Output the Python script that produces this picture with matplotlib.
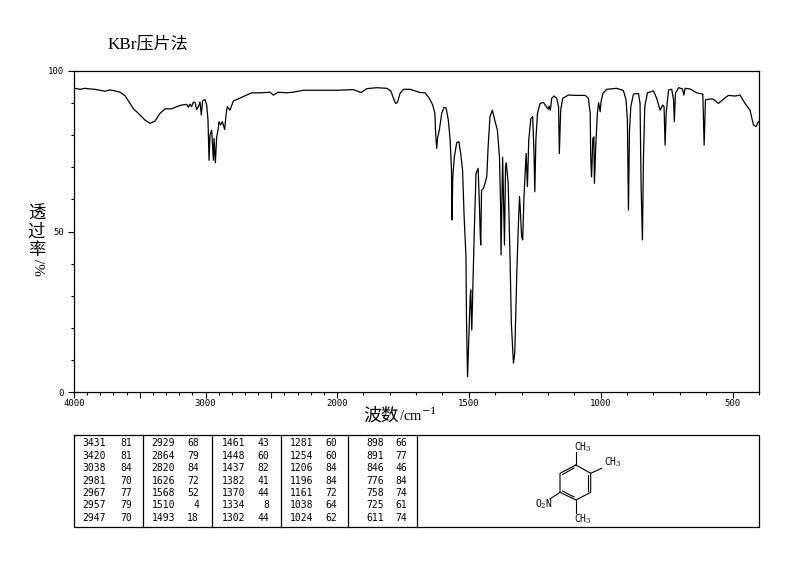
import numpy as np
import matplotlib
matplotlib.use("Agg")
import matplotlib.pyplot as plt

plt.rcParams["font.family"] = ["Noto Sans CJK SC", "DejaVu Sans"]
plt.rcParams["mathtext.fontset"] = "dejavuserif"

# spectrum (wavenumber, % transmittance)
wavenumber = [
    3992, 3954, 3916, 3878, 3840, 3802, 3764, 3726, 3688, 3650, 3612, 3587, 3549, 3498, 3460, 3422,
    3384, 3346, 3308, 3257, 3219, 3181, 3143, 3130, 3118, 3105, 3093, 3080, 3067, 3054, 3042, 3032,
    3022, 3004, 2991, 2981, 2973, 2966, 2953, 2940, 2935, 2925, 2915, 2907, 2897, 2885, 2872, 2854,
    2844, 2834, 2814, 2788, 2763, 2725, 2687, 2649, 2585, 2509, 2484, 2446, 2383, 2332, 2256, 2129,
    2001, 1938, 1909, 1887, 1849, 1811, 1796, 1786, 1778, 1771, 1761, 1748, 1723,
    1685, 1666, 1650, 1637, 1629, 1626, 1622, 1619, 1612, 1603, 1594, 1586, 1578, 1571, 1566, 1564,
    1561, 1555, 1546, 1538, 1531, 1524, 1518, 1511, 1509, 1505, 1500, 1495, 1493, 1489, 1485, 1480,
    1473, 1465, 1461, 1457, 1455, 1452, 1445, 1437, 1432, 1427, 1420, 1411, 1402, 1392, 1384, 1380,
    1378, 1374, 1372, 1368, 1365, 1361, 1358, 1351, 1344, 1339, 1331, 1326, 1318, 1313, 1308, 1305,
    1300, 1296, 1291, 1283, 1278, 1273, 1265, 1258, 1253, 1250, 1246, 1240, 1230, 1217, 1207, 1198,
    1196, 1191, 1186, 1177, 1167, 1160, 1157, 1152, 1144, 1123, 1091, 1059, 1047, 1040, 1038, 1035,
    1033, 1030, 1026, 1024, 1019, 1013, 1008, 1002, 999, 992, 977, 939, 914, 904, 899, 895,
    891, 886, 876, 857, 851, 847, 842, 838, 833, 823, 800, 788, 775, 765, 760, 756,
    752, 743, 731, 724, 721, 717, 705, 690, 685, 680, 661, 636, 613, 608, 603, 585,
    573, 554, 535, 516, 491, 472, 453, 434, 421, 411, 402,
]
transmittance = [
    94.6, 94.3, 94.6, 94.4, 94.3, 94.0, 93.7, 94.1, 93.8, 93.4, 92.3, 90.7, 88.3, 86.3, 84.7, 83.7,
    84.4, 86.8, 88.2, 88.2, 88.9, 89.4, 89.6, 88.7, 89.7, 88.9, 90.3, 90.2, 88.0, 88.9, 90.4, 86.3,
    90.7, 91.1, 89.4, 84.7, 72.2, 80.0, 81.6, 72.2, 79.0, 71.4, 79.5, 81.1, 84.2, 83.2, 84.2, 81.8,
    86.3, 88.9, 87.8, 90.7, 91.1, 91.8, 92.5, 93.2, 93.2, 93.4, 92.5, 93.4, 93.2, 93.4, 94.0, 94.0,
    94.0, 94.2, 93.3, 94.5, 94.8, 94.6, 93.8, 91.5, 89.9, 90.2, 93.0, 94.3, 94.3,
    93.3, 93.2, 91.5, 89.4, 86.8, 80.6, 75.9, 79.0, 81.6, 86.8, 88.7, 88.4, 84.7, 78.5, 69.2, 53.6,
    67.1, 73.3, 77.7, 78.0, 74.3, 69.2, 54.6, 42.2, 22.4, 4.8, 17.3, 29.7, 31.8, 19.3, 32.8, 48.4,
    68.1, 69.7, 60.9, 49.4, 45.8, 62.9, 63.4, 65.5, 67.3, 76.4, 85.8, 87.8, 84.7, 81.6, 73.3, 58.8,
    42.7, 62.9, 73.1, 56.7, 45.8, 70.2, 71.4, 65.0, 42.2, 21.4, 9.0, 12.1, 38.0, 50.5, 60.9, 56.7,
    48.4, 47.4, 60.9, 74.3, 64.0, 78.5, 85.2, 85.8, 74.3, 62.4, 78.5, 86.8, 89.9, 90.2, 88.9, 88.1,
    89.1, 87.8, 91.5, 92.2, 91.5, 88.9, 74.3, 87.8, 91.5, 92.5, 92.4, 92.4, 91.5, 86.8, 73.3, 67.0,
    71.2, 79.0, 79.5, 65.0, 76.4, 86.8, 90.1, 87.3, 90.4, 93.0, 94.3, 94.6, 93.9, 91.0, 84.7, 56.7,
    81.6, 88.9, 92.8, 93.0, 89.9, 64.0, 47.4, 73.3, 88.9, 93.2, 93.8, 91.5, 87.8, 89.4, 88.9, 76.9,
    86.8, 94.1, 94.3, 91.0, 84.2, 93.0, 94.8, 94.4, 92.5, 94.6, 94.4, 93.2, 92.8, 76.9, 91.0, 91.3,
    91.2, 89.9, 91.2, 92.4, 92.2, 92.5, 89.9, 87.8, 83.2, 82.7, 84.2,
]

# 3500 and 2500 get the long tick but no label
x_major = [4000, 3500, 3000, 2500, 2000, 1500, 1000, 500]
x_labels = ["4000", "", "3000", "", "2000", "1500", "1000", "500"]
x_minor = [3900, 3800, 3700, 3600, 3400, 3300, 3200, 3100,
           2900, 2800, 2700, 2600, 2400, 2300, 2200, 2100,
           1900, 1800, 1700, 1600, 1400, 1300, 1200, 1100,
           900, 800, 700, 600, 400]
y_major = [0, 50, 100]
y_minor = [10, 20, 30, 40, 60, 70, 80, 90]

# peak table, one list per column block
peak_wn = [
    [3431, 3420, 3038, 2981, 2967, 2957, 2947],
    [2929, 2864, 2820, 1626, 1568, 1510, 1493],
    [1461, 1448, 1437, 1382, 1370, 1334, 1302],
    [1281, 1254, 1206, 1196, 1161, 1038, 1024],
    [898, 891, 846, 776, 758, 725, 611],
]
peak_t = [
    [81, 81, 84, 70, 77, 79, 70],
    [68, 79, 84, 72, 52, 4, 18],
    [43, 60, 82, 41, 44, 8, 44],
    [60, 60, 84, 84, 72, 64, 62],
    [66, 77, 46, 84, 74, 61, 74],
]


# the wavenumber axis is twice as wide below 2000
def forward(x):
    return np.interp(x, [400, 2000, 4000], [0, 422, 685])


def inverse(x):
    return np.interp(x, [0, 422, 685], [400, 2000, 4000])


W, H = 794, 567
SERIF_CJK = ["Liberation Serif", "Noto Sans CJK SC"]
MONO = "DejaVu Sans Mono"

fig = plt.figure(figsize=(W / 100, H / 100), dpi=100)

ax = fig.add_axes([74 / W, 1 - 392 / H, 685 / W, 321 / H])
ax.set_xscale("function", functions=(forward, inverse))
ax.plot(wavenumber, transmittance, color="black", lw=0.9)
ax.set_xlim(4000, 400)
ax.set_ylim(0, 100)
ax.set_xticks(x_major, labels=x_labels)
ax.set_xticks(x_minor, minor=True)
ax.set_yticks(y_major)
ax.set_yticks(y_minor, minor=True)
ax.tick_params(which="major", length=4.3, width=0.8, labelsize=6.5)
ax.tick_params(which="minor", length=2, width=0.8)
ax.tick_params(axis="x", which="major", pad=0.5)
ax.tick_params(axis="y", which="major", pad=3)
for label in ax.get_xticklabels() + ax.get_yticklabels():
    label.set_family(MONO)
for spine in ax.spines.values():
    spine.set_linewidth(0.9)

# overlay in pixels for the title, axis names, table and structure
top = fig.add_axes([0, 0, 1, 1])
top.set_xlim(0, W)
top.set_ylim(H, 0)
top.axis("off")

top.text(108, 44, "KBr压片法", fontsize=12.3, va="center", family=SERIF_CJK)

# mathtext drops the CJK fallback, so the x label is split in two
top.text(363, 415.5, "波数", fontsize=12.8, ha="left", va="center")
top.text(399, 415.5, "/cm$^{-1}$", fontsize=10.5, ha="left", va="center", family="Liberation Serif")

top.text(36.5, 232, "透\n过\n率", fontsize=12.5, ha="center", va="center", linespacing=1.0)
top.text(37, 267, "/%", fontsize=11, ha="center", va="center", rotation=-90, family=SERIF_CJK)

# table frame
top.plot([74, 759, 759, 74, 74], [435, 435, 527, 527, 435], color="black", lw=0.9)
dividers = [143, 212, 281, 348, 417]
for d in dividers:
    top.plot([d, d], [435, 527], color="black", lw=0.9)

wn_right = [106, 175, 245, 313, 384]
t_right = [132, 199, 269, 337, 407]
for c in range(5):
    for r in range(7):
        y = 443.5 + r * 12.4
        top.text(wn_right[c], y, str(peak_wn[c][r]), family=MONO, fontsize=7, ha="right", va="center")
        top.text(t_right[c], y, str(peak_t[c][r]), family=MONO, fontsize=7, ha="right", va="center")

# structure of the compound
ring = [(576, 465), (590.7, 473.3), (590.7, 492.3), (576, 500), (560, 492.3), (560, 473.3), (576, 465)]
top.plot(*zip(*ring), color="black", lw=0.8)
bonds = [
    [(574, 468), (562.5, 474.5)],
    [(588, 475), (588, 490.5)],
    [(574, 497), (562.5, 491)],
    [(576, 465), (576, 452)],
    [(590.7, 473.3), (601.7, 468.3)],
    [(576, 500), (576, 512.7)],
    [(560, 492.3), (550, 499)],
]
for b in bonds:
    top.plot(*zip(*b), color="black", lw=0.8)
top.text(583, 447.5, "CH$_3$", fontsize=7, ha="center", va="center", family=MONO)
top.text(613, 462.5, "CH$_3$", fontsize=7, ha="center", va="center", family=MONO)
top.text(583, 519, "CH$_3$", fontsize=7, ha="center", va="center", family=MONO)
top.text(544, 504, "O$_2$N", fontsize=7, ha="center", va="center", family=MONO)

fig.savefig("out.png", dpi=100)
